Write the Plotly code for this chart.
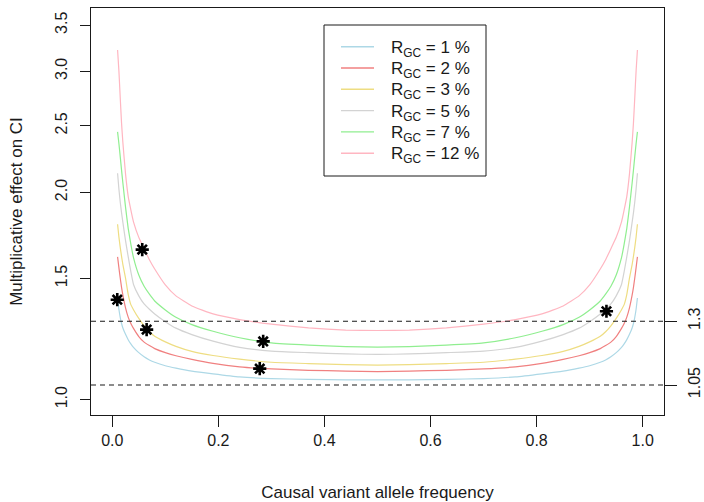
import plotly.graph_objects as go

# ---- data ----
freq = [0.01, 0.0125, 0.015, 0.0175, 0.02, 0.025, 0.03, 0.035, 0.04, 0.05, 0.06, 0.07, 0.08,
        0.1, 0.12, 0.15, 0.19, 0.24, 0.3, 0.37, 0.44, 0.5,
        0.56, 0.63, 0.7, 0.76, 0.81, 0.85, 0.88, 0.9, 0.92, 0.93, 0.94, 0.95, 0.96, 0.965,
        0.97, 0.975, 0.98, 0.9825, 0.985, 0.9875, 0.99]

rgc_1 = [1.405, 1.353, 1.317, 1.290, 1.271, 1.244, 1.222, 1.205, 1.191, 1.170, 1.154, 1.142, 1.133,
         1.120, 1.111, 1.100, 1.090, 1.079, 1.073, 1.070, 1.068, 1.068,
         1.068, 1.070, 1.073, 1.079, 1.090, 1.100, 1.111, 1.120, 1.133, 1.142, 1.154, 1.170, 1.191, 1.205,
         1.222, 1.244, 1.271, 1.290, 1.317, 1.353, 1.405]
rgc_2 = [1.612, 1.555, 1.502, 1.456, 1.418, 1.359, 1.318, 1.290, 1.269, 1.235, 1.212, 1.198, 1.186,
         1.170, 1.158, 1.144, 1.129, 1.116, 1.108, 1.103, 1.100, 1.098,
         1.100, 1.103, 1.108, 1.116, 1.129, 1.144, 1.158, 1.170, 1.186, 1.198, 1.212, 1.235, 1.269, 1.290,
         1.318, 1.359, 1.418, 1.456, 1.502, 1.555, 1.612]
rgc_3 = [1.798, 1.723, 1.664, 1.615, 1.571, 1.501, 1.422, 1.374, 1.351, 1.312, 1.280, 1.255, 1.236,
         1.213, 1.195, 1.175, 1.159, 1.145, 1.133, 1.128, 1.124, 1.122,
         1.124, 1.128, 1.133, 1.145, 1.159, 1.175, 1.195, 1.213, 1.236, 1.255, 1.280, 1.312, 1.351, 1.374,
         1.422, 1.501, 1.571, 1.615, 1.664, 1.723, 1.798]
rgc_5 = [2.133, 2.023, 1.937, 1.868, 1.809, 1.702, 1.613, 1.534, 1.470, 1.415, 1.377, 1.353, 1.332,
         1.298, 1.270, 1.243, 1.216, 1.191, 1.176, 1.170, 1.165, 1.163,
         1.165, 1.170, 1.176, 1.191, 1.216, 1.243, 1.270, 1.298, 1.332, 1.353, 1.377, 1.415, 1.470, 1.534,
         1.613, 1.702, 1.809, 1.868, 1.937, 2.023, 2.133]
rgc_7 = [2.450, 2.356, 2.255, 2.155, 2.064, 1.904, 1.774, 1.682, 1.608, 1.517, 1.461, 1.423, 1.391,
         1.350, 1.317, 1.285, 1.257, 1.230, 1.209, 1.200, 1.194, 1.192,
         1.194, 1.200, 1.209, 1.230, 1.257, 1.285, 1.317, 1.350, 1.391, 1.423, 1.461, 1.517, 1.608, 1.682,
         1.774, 1.904, 2.064, 2.155, 2.255, 2.356, 2.450]
rgc_12 = [3.222, 3.004, 2.746, 2.522, 2.363, 2.128, 1.974, 1.887, 1.813, 1.721, 1.657, 1.597, 1.548,
          1.468, 1.415, 1.368, 1.332, 1.307, 1.287, 1.271, 1.262, 1.260,
          1.262, 1.271, 1.287, 1.307, 1.332, 1.368, 1.415, 1.468, 1.548, 1.597, 1.657, 1.721, 1.813, 1.887,
          1.974, 2.128, 2.363, 2.522, 2.746, 3.004, 3.222]

series_names = ["R<sub>GC</sub> = 1 %", "R<sub>GC</sub> = 2 %", "R<sub>GC</sub> = 3 %",
                "R<sub>GC</sub> = 5 %", "R<sub>GC</sub> = 7 %", "R<sub>GC</sub> = 12 %"]
series_colors = ["#ADD8E6", "#F08080", "#EEDD82", "#D3D3D3", "#90EE90", "#FFB6C1"]

star_freq = [0.0094, 0.0565, 0.0648, 0.2845, 0.278, 0.9316]
star_effect = [1.397, 1.652, 1.264, 1.215, 1.109, 1.344]

ref_levels = [1.05, 1.3]
ref_labels = ["1.05", "1.3"]

x_ticks = [0, 0.2, 0.4, 0.6, 0.8, 1.0]
x_ticklabels = ["0.0", "0.2", "0.4", "0.6", "0.8", "1.0"]
y_ticks = [1.0, 1.5, 2.0, 2.5, 3.0, 3.5]
y_ticklabels = ["1.0", "1.5", "2.0", "2.5", "3.0", "3.5"]

FONT = "Arial, Liberation Sans, sans-serif"
INK = "#1a1a1a"

W, H = 704, 502
ML, MR, MT, MB = 91, 40, 8, 87
PW, PH = W - ML - MR, H - MT - MB


def px(x):
    return (x - ML) / PW


def py(y):
    return 1 - (y - MT) / PH


fig = go.Figure()
all_series = [rgc_1, rgc_2, rgc_3, rgc_5, rgc_7, rgc_12]
for vals, name, col in zip(all_series, series_names, series_colors):
    fig.add_trace(go.Scatter(x=freq, y=vals, mode="lines", name=name, showlegend=False,
                             line=dict(color=col, width=1.2, shape="spline", smoothing=0.4)))

fig.add_trace(go.Scatter(x=star_freq, y=star_effect, mode="markers", showlegend=False,
                         marker=dict(symbol="asterisk-open", size=11, color="black",
                                     line=dict(color="black", width=2.6))))

# invisible trace to carry the right-hand axis
fig.add_trace(go.Scatter(x=[0.5] * len(ref_levels), y=ref_levels, yaxis="y2", mode="markers",
                         marker=dict(opacity=0), showlegend=False, hoverinfo="skip"))

shapes = []
# dashed reference levels across the whole plot
for lv in ref_levels:
    shapes.append(dict(type="line", xref="paper", yref="y", x0=0, x1=1, y0=lv, y1=lv,
                       line=dict(color=INK, width=1.1, dash="5px,4px"), layer="above"))

# ---- legend box drawn by hand (R-style) ----
shapes.append(dict(type="rect", xref="paper", yref="paper", x0=px(324), x1=px(486), y0=py(176), y1=py(25),
                   line=dict(color=INK, width=1), fillcolor="white", layer="above"))
annotations = []
row0, drow = 46.7, 21.3
for i, (name, col) in enumerate(zip(series_names, series_colors)):
    yy = row0 + i * drow
    shapes.append(dict(type="line", xref="paper", yref="paper", x0=px(341), x1=px(374),
                       y0=py(yy), y1=py(yy), line=dict(color=col, width=1.4), layer="above"))
    annotations.append(dict(xref="paper", yref="paper", x=px(389), y=py(yy), text=name,
                            xanchor="left", yanchor="middle", showarrow=False, yshift=-2,
                            font=dict(size=17, color=INK, family=FONT)))

fig.update_layout(
    template="none",
    width=W, height=H,
    margin=dict(l=ML, r=MR, t=MT, b=MB, pad=0),
    paper_bgcolor="white", plot_bgcolor="white",
    font=dict(family=FONT, size=16, color=INK),
    showlegend=False,
    shapes=shapes,
    annotations=annotations,
    xaxis=dict(range=[-0.0401, 1.0401], tickvals=x_ticks, ticktext=x_ticklabels,
               ticks="outside", ticklen=11, tickcolor=INK, tickwidth=1,
               showline=True, mirror=True, linecolor=INK, linewidth=1,
               showgrid=False, zeroline=False, automargin=False,
               tickfont=dict(size=16),
               title=dict(text="Causal variant allele frequency", font=dict(size=17), standoff=38)),
    yaxis=dict(type="log", range=[-0.0224, 0.5691], tickvals=y_ticks, ticktext=y_ticklabels,
               tickangle=-90, ticks="outside", ticklen=10, tickcolor=INK, tickwidth=1,
               showline=True, mirror=True, linecolor=INK, linewidth=1,
               showgrid=False, zeroline=False, automargin=False,
               tickfont=dict(size=16), ticklabelstandoff=7,
               title=dict(text="Multiplicative effect on CI", font=dict(size=17), standoff=25)),
    yaxis2=dict(type="log", range=[-0.0224, 0.5691], overlaying="y", side="right",
                tickvals=ref_levels, ticktext=ref_labels, tickangle=-90,
                ticks="outside", ticklen=12, tickcolor=INK, tickwidth=1,
                showline=False, showgrid=False, zeroline=False, automargin=False,
                tickfont=dict(size=16), ticklabelstandoff=4),
)

fig.write_html("out.html", config={"displayModeBar": False},
               post_script="document.body.style.margin='0px';")
